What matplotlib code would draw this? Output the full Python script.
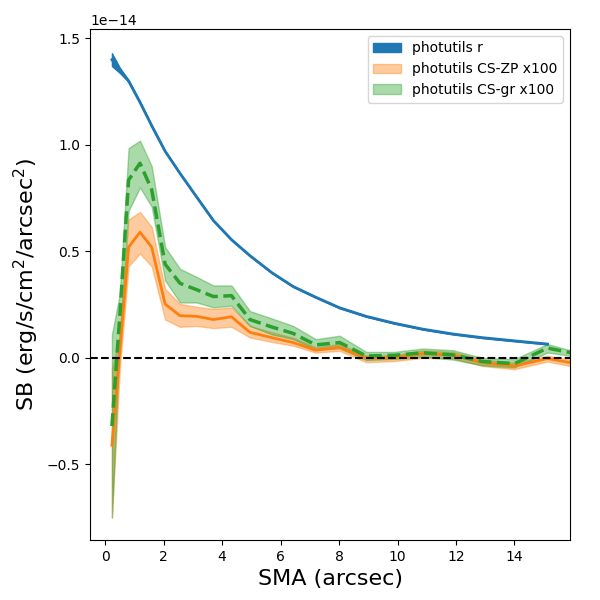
import numpy as np
import matplotlib
matplotlib.use("Agg")
import matplotlib.pyplot as plt

# SMA (arcsec)
sma = [0.23, 0.5, 0.8, 1.19, 1.59, 2.05, 2.56, 3.13, 3.7, 4.32, 4.95, 5.7,
       6.43, 7.2, 8.02, 8.93, 9.88, 10.86, 11.9, 12.9, 14.0, 15.13, 15.9]

# photutils r (units of 1e-14), one point fewer than the colour profiles
sb_r = [1.40, 1.35, 1.30, 1.20, 1.09, 0.97, 0.866, 0.755, 0.645, 0.555, 0.48,
        0.40, 0.335, 0.285, 0.235, 0.195, 0.163, 0.135, 0.112, 0.095, 0.08, 0.065]
sb_r_err = [0.03, 0.012, 0.004, 0.003, 0.003, 0.002, 0.002, 0.002, 0.002, 0.002, 0.002,
            0.002, 0.002, 0.002, 0.002, 0.002, 0.002, 0.002, 0.002, 0.002, 0.002, 0.002]

# photutils CS-ZP x100
sb_zp = [-0.41, 0.03, 0.52, 0.59, 0.52, 0.253, 0.198, 0.195, 0.18, 0.193, 0.12, 0.095,
         0.072, 0.036, 0.049, 0.0, 0.0, 0.02, 0.013, -0.022, -0.038, -0.003, -0.022]
sb_zp_hi = [-0.05, 0.10, 0.65, 0.685, 0.615, 0.324, 0.253, 0.24, 0.23, 0.237, 0.15, 0.12,
            0.095, 0.05, 0.065, 0.012, 0.012, 0.035, 0.028, -0.008, -0.022, 0.01, -0.008]
sb_zp_lo = [-0.75, -0.05, 0.43, 0.49, 0.43, 0.18, 0.146, 0.15, 0.14, 0.146, 0.096, 0.075,
            0.057, 0.025, 0.033, -0.02, -0.015, 0.0, -0.002, -0.038, -0.053, -0.017, -0.038]

# photutils CS-gr x100
sb_gr = [-0.32, 0.20, 0.835, 0.914, 0.79, 0.44, 0.35, 0.32, 0.288, 0.292, 0.18, 0.145,
         0.115, 0.061, 0.072, 0.009, 0.012, 0.024, 0.014, -0.017, -0.027, 0.046, 0.025]
sb_gr_hi = [0.11, 0.30, 0.985, 1.02, 0.90, 0.52, 0.418, 0.38, 0.34, 0.34, 0.22, 0.185,
            0.15, 0.088, 0.104, 0.028, 0.028, 0.044, 0.036, 0.0, -0.006, 0.065, 0.036]
sb_gr_lo = [-0.75, 0.10, 0.69, 0.80, 0.71, 0.363, 0.26, 0.26, 0.237, 0.245, 0.15, 0.11,
            0.088, 0.04, 0.045, -0.01, -0.005, 0.005, -0.008, -0.035, -0.045, 0.025, 0.01]

scale = 1e-14
x = np.array(sma)
xr = x[:len(sb_r)]
r = np.array(sb_r) * scale
r_err = np.array(sb_r_err) * scale

fig = plt.figure(figsize=(6, 6), dpi=100)
ax = fig.add_axes([0.15, 0.1, 0.8, 0.852])

ax.fill_between(xr, r - r_err, r + r_err, color='C0', label='photutils r')
ax.plot(xr, r, color='C0', lw=2)

ax.fill_between(x, np.array(sb_zp_lo) * scale, np.array(sb_zp_hi) * scale,
                color='C1', alpha=0.4, label='photutils CS-ZP x100')
ax.plot(x, np.array(sb_zp) * scale, color='C1', lw=2)

ax.fill_between(x, np.array(sb_gr_lo) * scale, np.array(sb_gr_hi) * scale,
                color='C2', alpha=0.4, label='photutils CS-gr x100')
ax.plot(x, np.array(sb_gr) * scale, color='C2', lw=2.5, ls='--')

ax.axhline(0, color='k', ls='--', lw=1.5)

ax.set_xlim(-0.52, 15.9)
ax.set_ylim(-0.855e-14, 1.545e-14)
ax.set_xlabel('SMA (arcsec)', fontsize=16)
ax.set_ylabel('SB (erg/s/cm$^2$/arcsec$^2$)', fontsize=16)
ax.legend(loc='upper right')

fig.savefig('out.png')
